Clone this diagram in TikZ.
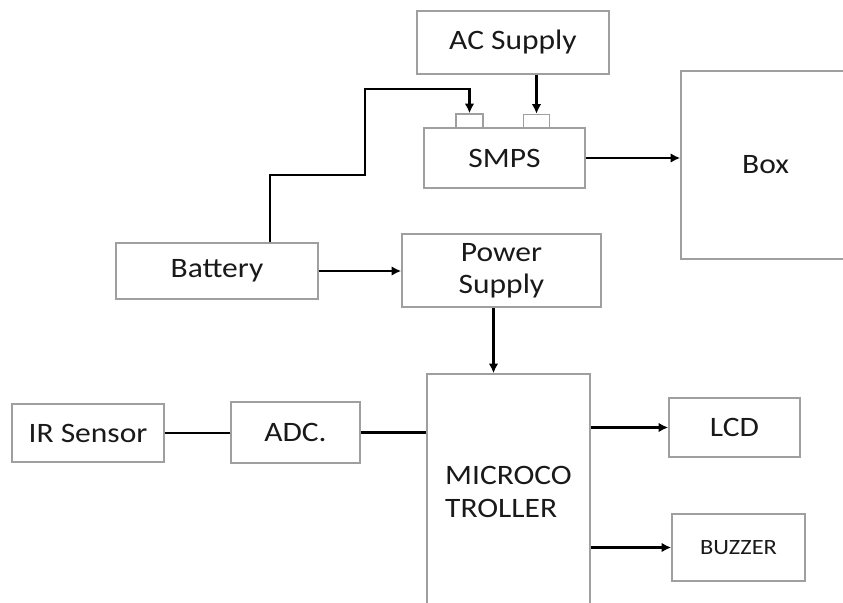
\documentclass[tikz,border=0pt]{standalone}
\usepackage{fontspec}
\setmainfont{Carlito}[FakeStretch=1.12]
\usetikzlibrary{arrows.meta, positioning, calc}

\begin{document}
\begin{tikzpicture}[x=0.025cm, y=-0.025cm, >={Latex[length=2.4mm,width=2.4mm]},
  blk/.style={draw=gray!75, line width=1.1pt, rectangle, align=center,
    font=\fontsize{20}{23}\selectfont, text=black!90, inner sep=0pt},
  wire/.style={line width=2pt, black}]
  \useasboundingbox (0,0) rectangle (843,603);
  % Blocks (centres in pixels of the sketch)
  \node[blk, minimum width=4.8cm, minimum height=1.575cm] (acsupply) at (513,42.5) {AC Supply};
  \node[blk, minimum width=4.025cm, minimum height=1.5cm] (smps) at (504.5,158) {SMPS};
  \node[blk, minimum width=0.675cm, minimum height=0.35cm] (portL) at (469.5,121) {};
  \node[blk, minimum width=0.65cm, minimum height=0.35cm] (portR) at (536.5,121.5) {};
  \node[blk, minimum width=4.225cm, minimum height=4.7cm] (box) at (765.5,165) {Box};
  \node[blk, minimum width=5.05cm, minimum height=1.4cm] (battery) at (217,271) {Battery};
  \node[blk, minimum width=4.975cm, minimum height=1.825cm] (power) at (501.5,270.5) {Power\\Supply};
  \node[blk, minimum width=3.8cm, minimum height=1.45cm] (irsensor) at (88,433) {IR Sensor};
  \node[blk, minimum width=3.225cm, minimum height=1.525cm] (adc) at (295.5,432.5) {ADC.};
  \node[blk, minimum width=4.075cm, minimum height=5.9cm, align=left] (mc) at (508.5,492) {MICROCO\\TROLLER};
  \node[blk, minimum width=3.275cm, minimum height=1.475cm] (lcd) at (734.5,427.5) {LCD};
  \node[blk, minimum width=3.325cm, minimum height=1.675cm, font=\fontsize{15.5}{18}\selectfont] (buzzer) at (738.5,547.5) {BUZZER};
  % Bends of the battery line
  \coordinate (batA) at (365,175);
  \coordinate (batB) at (365,89);
  % Connectors
  \draw[wire, ->] (acsupply.south -| portR) -- (portR.north);
  \draw[wire, ->] ([xshift=1.325cm]battery.north) |- (batA) -- (batB) -| (portL.north);
  \draw[wire, ->] (smps.east) -- (smps.east -| box.west);
  \draw[wire, ->] (battery.east) -- (battery.east -| power.west);
  \draw[wire, ->] ([xshift=-0.2cm]power.south) -- ([xshift=-0.2cm]power.south |- mc.north);
  \draw[wire] (irsensor.east) -- (irsensor.east -| adc.west);
  \draw[wire] (adc.east) -- (adc.east -| mc.west);
  \draw[wire, ->] (lcd.west -| mc.east) -- (lcd.west);
  \draw[wire, ->] (buzzer.west -| mc.east) -- (buzzer.west);
\end{tikzpicture}
\end{document}
